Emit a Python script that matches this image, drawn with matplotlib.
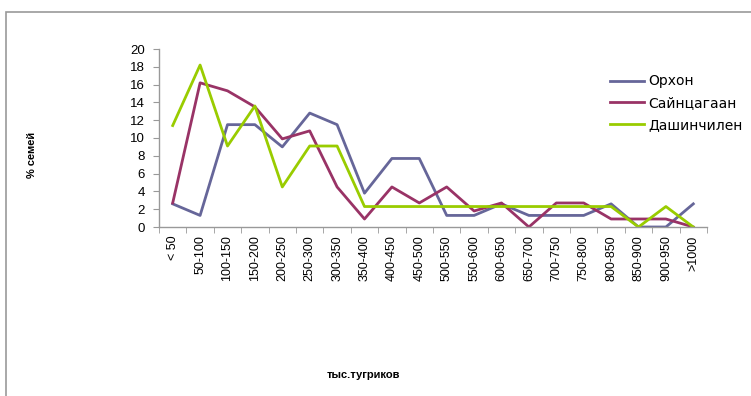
import matplotlib
matplotlib.use("Agg")
import matplotlib.pyplot as plt
from matplotlib.patches import Rectangle
import numpy as np

plt.rcParams['font.family'] = ['Liberation Sans', 'DejaVu Sans']

categories = ["< 50", "50-100", "100-150", "150-200", "200-250", "250-300",
              "300-350", "350-400", "400-450", "450-500", "500-550", "550-600",
              "600-650", "650-700", "700-750", "750-800", "800-850", "850-900",
              "900-950", ">1000"]

orkhon = [2.6, 1.3, 11.5, 11.5, 9.0, 12.8, 11.5, 3.8, 7.7, 7.7,
          1.3, 1.3, 2.6, 1.3, 1.3, 1.3, 2.6, 0.0, 0.0, 2.6]
saintsagaan = [2.7, 16.2, 15.3, 13.5, 9.9, 10.8, 4.5, 0.9, 4.5, 2.7,
               4.5, 1.8, 2.7, 0.0, 2.7, 2.7, 0.9, 0.9, 0.9, 0.0]
dashinchilen = [11.4, 18.2, 9.1, 13.6, 4.5, 9.1, 9.1, 2.3, 2.3, 2.3,
                2.3, 2.3, 2.3, 2.3, 2.3, 2.3, 2.3, 0.0, 2.3, 0.0]

series_names = ["Орхон", "Сайнцагаан", "Дашинчилен"]
series_colors = ["#666699", "#993366", "#99CC00"]

W, H = 751, 396
fig = plt.figure(figsize=(W / 100, H / 100), dpi=100)

# outer chart frame
fig.patches.append(Rectangle((6 / W, -0.1), 1.2, 1 - 12 / H + 0.1,
                             transform=fig.transFigure, fill=False,
                             edgecolor="#999999", linewidth=1.2))

ax = fig.add_axes([159 / W, 1 - 227 / H, (707 - 159) / W, (227 - 49) / H])
x = np.arange(len(categories))
for vals, name, col in zip([orkhon, saintsagaan, dashinchilen], series_names, series_colors):
    ax.plot(x, vals, color=col, linewidth=2.0, label=name)

ax.set_xlim(-0.5, len(categories) - 0.5)
ax.set_ylim(0, 20)
ax.set_yticks(range(0, 21, 2))
ax.tick_params(axis="y", labelsize=9.5, length=4, color="#999999", pad=6)

ax.set_xticks(x)
ax.set_xticklabels(categories, rotation=90, fontsize=9)
ax.tick_params(axis="x", length=0, pad=6)
ax.set_xticks(np.arange(-0.5, len(categories)), minor=True)
ax.tick_params(axis="x", which="minor", length=4, color="#999999")

for s in ["top", "right"]:
    ax.spines[s].set_visible(False)
for s in ["left", "bottom"]:
    ax.spines[s].set_color("#999999")
    ax.spines[s].set_linewidth(1.0)

fig.text(32 / W, 1 - 155 / H, "% семей", rotation=90, fontsize=8,
         fontweight="bold", ha="center", va="center")
fig.text(363 / W, 1 - 375 / H, "тыс.тугриков", fontsize=8,
         fontweight="bold", ha="center", va="center")

leg = ax.legend(loc="upper left", bbox_to_anchor=(597 / W, 1 - 62 / H),
                bbox_transform=fig.transFigure, frameon=False,
                prop={"family": "DejaVu Sans", "size": 10},
                handlelength=2.5, handletextpad=0.3, labelspacing=0.55)

fig.savefig("out.png", dpi=100)
